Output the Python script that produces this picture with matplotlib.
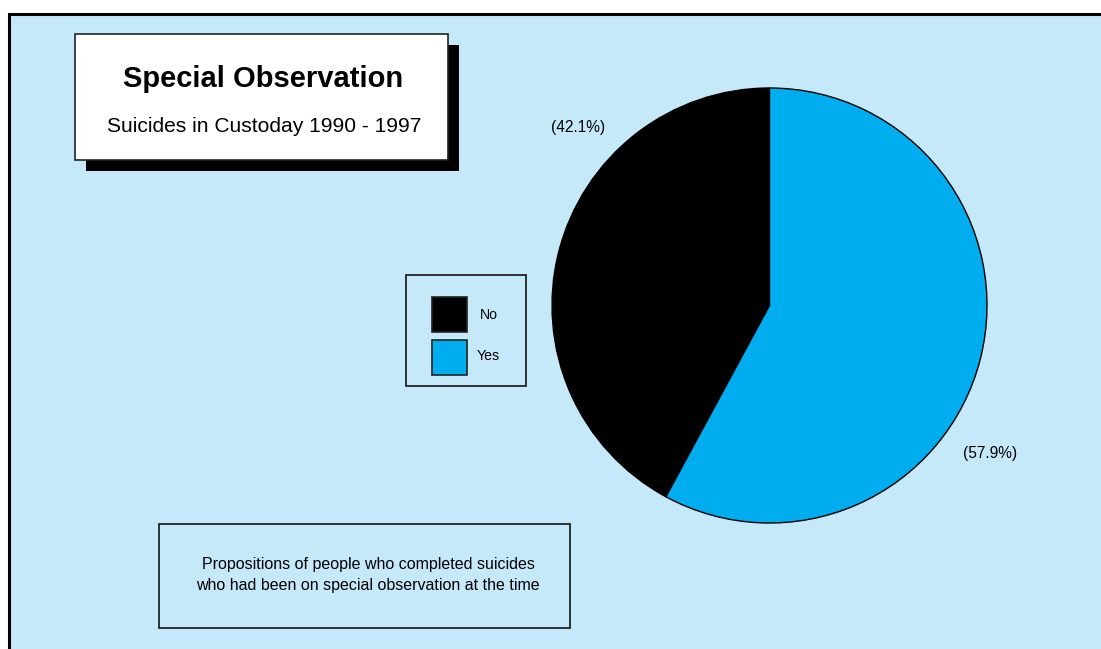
import matplotlib
matplotlib.use("Agg")
import matplotlib.pyplot as plt
from matplotlib.patches import Rectangle

categories = ["No", "Yes"]
values = [42.1, 57.9]
colors = ["#000000", "#00adef"]
pct_labels = ["(42.1%)", "(57.9%)"]
title = "Special Observation"
subtitle = "Suicides in Custoday 1990 - 1997"
note = "Propositions of people who completed suicides\nwho had been on special observation at the time"

BG = "#c6e9f9"
FONT = "Liberation Sans"
W, H = 1101, 649

fig = plt.figure(figsize=(W / 100, H / 100), dpi=100)
fig.patch.set_facecolor("white")

# Background axes in pixel coordinates
bg = fig.add_axes([0, 0, 1, 1])
bg.set_xlim(0, W)
bg.set_ylim(H, 0)
bg.axis("off")

# Outer frame (open to right / bottom)
bg.add_patch(Rectangle((8.5, 14), 1200, 700, facecolor=BG, edgecolor="black", lw=2.2, zorder=0))

# Title box with shadow
bg.add_patch(Rectangle((85.5, 44.5), 373, 126, facecolor="black", edgecolor="none", zorder=1))
bg.add_patch(Rectangle((74.5, 33.5), 373, 126, facecolor="white", edgecolor="#222222", lw=1.2, zorder=2))
bg.text(263, 79, title, ha="center", va="center", fontsize=21, fontweight="bold", family=FONT, zorder=3)
bg.text(264, 126, subtitle, ha="center", va="center", fontsize=15.1, family=FONT, zorder=3)

# Legend box
bg.add_patch(Rectangle((406, 275), 120, 111, facecolor="none", edgecolor="#222222", lw=1.3, zorder=2))
leg_y = [314.5, 357.5]
leg_text_y = [315, 356]
for c, lab, y, ty in zip(colors, categories, leg_y, leg_text_y):
    bg.add_patch(Rectangle((431.5, y - 17.5), 35, 35, facecolor=c, edgecolor="#222222", lw=1.2, zorder=3))
    bg.text(488.5, ty, lab, ha="center", va="center", fontsize=10.2, family=FONT, zorder=3)

# Note box
bg.add_patch(Rectangle((158.5, 524), 411, 104, facecolor="none", edgecolor="#222222", lw=1.3, zorder=2))
bg.text(368, 575, note, ha="center", va="center", fontsize=11.5, family=FONT,
        linespacing=1.5, zorder=3)

# Pie axes
cx, cy, r = 769.5, 305.5, 217.5
pax = fig.add_axes([(cx - r) / W, (H - cy - r) / H, 2 * r / W, 2 * r / H])
pax.set_facecolor("none")
wedges, _ = pax.pie(values, colors=colors, startangle=90, counterclock=True,
                    wedgeprops=dict(edgecolor="black", linewidth=1.0))
pax.set_xlim(-1, 1)
pax.set_ylim(-1, 1)
pax.set_aspect("equal")
pax.axis("off")

# Percentage labels
pax.text(-0.882, 0.818, pct_labels[0], ha="center", va="center", fontsize=11.2, family=FONT, clip_on=False)
pax.text(1.013, -0.680, pct_labels[1], ha="center", va="center", fontsize=11.2, family=FONT, clip_on=False)

fig.savefig("out.png", dpi=100, facecolor="white")
